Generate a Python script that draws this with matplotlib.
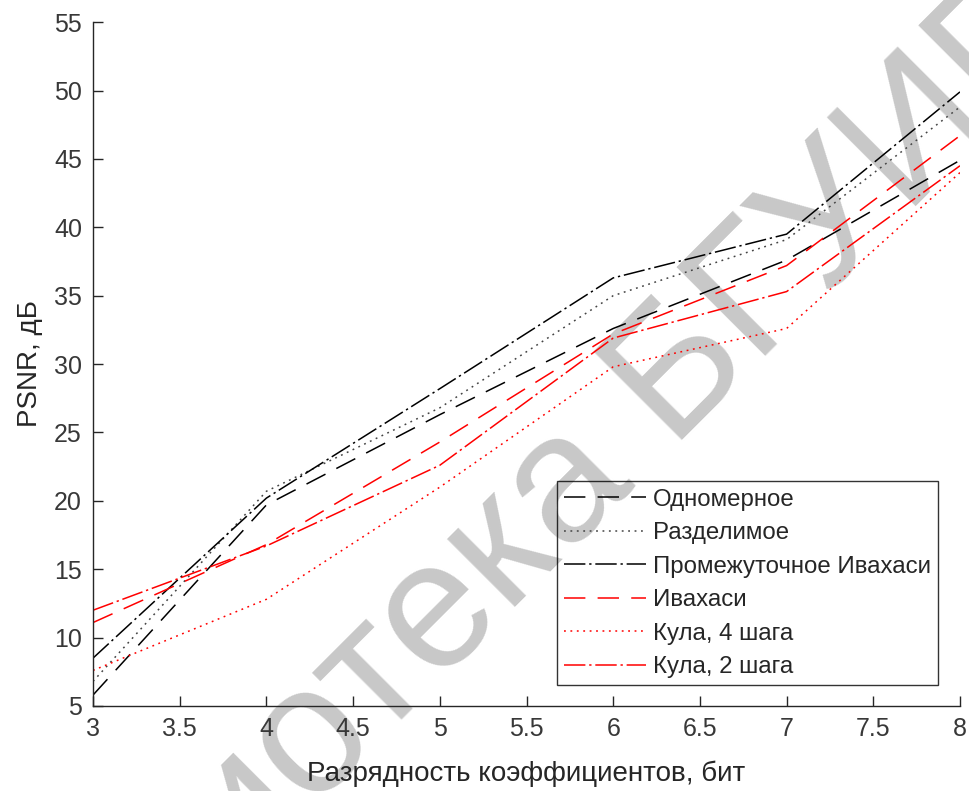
import matplotlib.pyplot as plt

plt.rcParams['font.family'] = ['Liberation Sans', 'DejaVu Sans']

# Data
bits = [3, 4, 5, 6, 7, 8]
odnomernoe = [5.8, 19.7, 26.3, 32.6, 37.6, 44.9]
razdelimoe = [6.8, 20.7, 26.8, 35.0, 39.1, 48.8]
promezh_ivahasi = [8.5, 20.2, 28.2, 36.3, 39.5, 49.9]
ivahasi = [11.1, 16.8, 24.3, 32.2, 37.2, 46.7]
kula4 = [7.6, 12.8, 21.0, 29.8, 32.6, 44.0]
kula2 = [12.0, 16.7, 22.6, 31.9, 35.3, 44.5]

xticks = [3, 3.5, 4, 4.5, 5, 5.5, 6, 6.5, 7, 7.5, 8]
xticklabels = ['3', '3.5', '4', '4.5', '5', '5.5', '6', '6.5', '7', '7.5', '8']
yticks = [5, 10, 15, 20, 25, 30, 35, 40, 45, 50, 55]

dashed = (0, (14, 8))
dotted = (0, (1.2, 3))
dashdot = (0, (14, 2.5, 1.5, 2.5))

fig = plt.figure(figsize=(9.69, 7.91), dpi=100)
ax = fig.add_axes([0.096, 0.1075, 0.8947, 0.8645])
ax.set_facecolor('none')

# watermark, under the axes
fig.text(0.495, 0.272, 'Библиотека БГУИР', fontsize=130, color='#c8c8c8',
         rotation=45, ha='center', va='center', rotation_mode='anchor', zorder=-1)

ax.plot(bits, odnomernoe, color='black', linestyle=dashed, linewidth=1.1, label='Одномерное')
ax.plot(bits, razdelimoe, color='#444444', linestyle=dotted, linewidth=1.1, label='Разделимое')
ax.plot(bits, promezh_ivahasi, color='black', linestyle=dashdot, linewidth=1.1, label='Промежуточное Ивахаси')
ax.plot(bits, ivahasi, color='red', linestyle=dashed, linewidth=1.1, label='Ивахаси')
ax.plot(bits, kula4, color='red', linestyle=dotted, linewidth=1.1, label='Кула, 4 шага')
ax.plot(bits, kula2, color='red', linestyle=dashdot, linewidth=1.1, label='Кула, 2 шага')

ax.set_xlim(3, 8)
ax.set_ylim(5, 55)
ax.set_xticks(xticks)
ax.set_xticklabels(xticklabels)
ax.set_yticks(yticks)
ax.tick_params(direction='in', length=7, width=1, colors='#262626', labelsize=18, pad=8)
for lab in ax.get_xticklabels() + ax.get_yticklabels():
    lab.set_color('#383838')
for side in ['top', 'right']:
    ax.spines[side].set_visible(False)
for side in ['left', 'bottom']:
    ax.spines[side].set_color('#262626')
    ax.spines[side].set_linewidth(1)

ax.set_xlabel('Разрядность коэффициентов, бит', fontsize=20, color='#262626', labelpad=14)
ax.set_ylabel('PSNR, дБ', fontsize=20, color='#262626', labelpad=8)

leg = ax.legend(loc='lower right', bbox_to_anchor=(0.975, 0.03), fontsize=17.3,
                frameon=True, fancybox=False, facecolor='none', edgecolor='black',
                handlelength=3.4, handletextpad=0.3, labelspacing=0.48,
                borderpad=0.3, borderaxespad=0)
leg.get_frame().set_linewidth(1.0)
for t in leg.get_texts():
    t.set_color('#262626')

fig.savefig('out.png', dpi=100)
